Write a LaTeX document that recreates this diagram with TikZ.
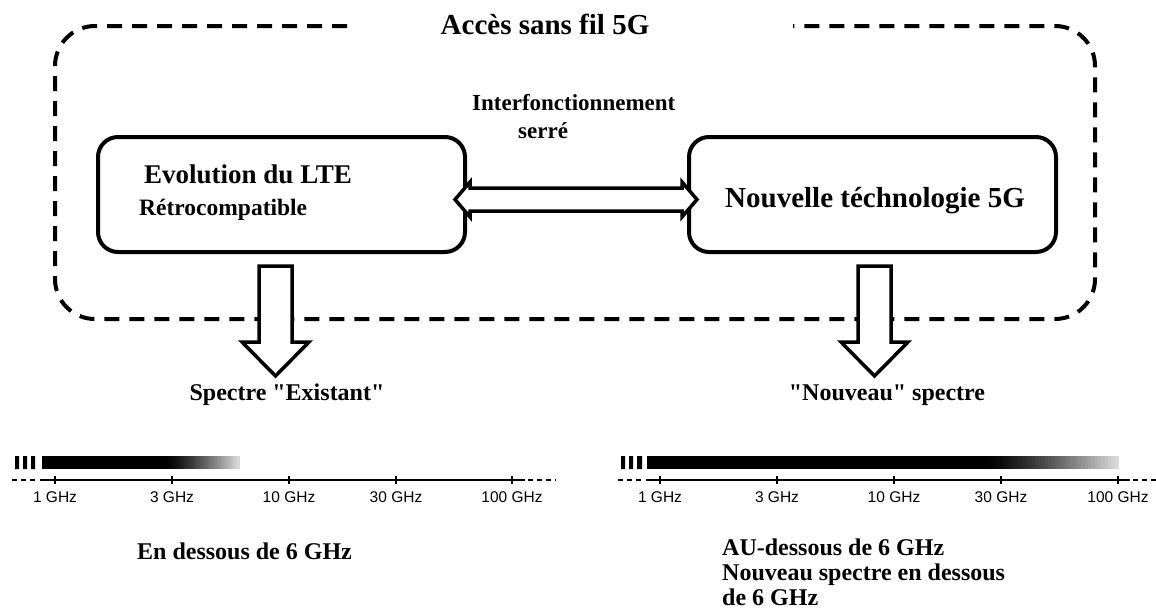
\documentclass[tikz,border=0pt]{standalone}
\usepackage{fontspec}
\setmainfont{Liberation Serif}[Ligatures=TeXOff]
\newfontfamily\axisfont{Liberation Sans}
\usetikzlibrary{calc}

\tikzset{
  accessbox/.style={line width=4pt, dash pattern=on 15pt off 10pt, rounded corners=40pt},
  blockbox/.style={draw, line width=4pt, rounded corners=20pt, inner sep=0pt,
                   minimum width=367pt, minimum height=115pt},
  hollow/.style={draw, fill=white, line width=3.5pt, line join=miter},
  txt/.style={inner sep=0pt, font=\bfseries\fontsize{#1}{#1}\selectfont},
  freq/.style={inner sep=0pt, anchor=base, font=\axisfont\fontsize{15.5}{16}\selectfont},
  axisline/.style={line width=2.5pt},
  axisdash/.style={line width=2.5pt, dash pattern=on 5pt off 4pt},
  ticklines/.style={line width=2pt},
  pics/downarrow/.style={code={
    \draw[hollow] (-16.5,0) -- (16.5,0) -- (16.5,76) -- (33.5,76) -- (0,110)
                  -- (-33.5,76) -- (-16.5,76) -- cycle;}},
  pics/twoway/.style={code={
    \draw[hollow] (-121,0) -- (-106,-17.5) -- (-106,-11.5) -- (106,-11.5) -- (106,-17.5)
                  -- (121,0) -- (106,17.5) -- (106,11.5) -- (-106,11.5) -- (-106,17.5) -- cycle;}}
}

% black band from #1 to #2 that fades out between #2 and #3 (band spans y 456..469)
\newcommand{\fadeband}[3]{%
  \fill (#1,456) rectangle (#2+0.5,469);
  \foreach \i [evaluate=\i as \p using {100-88*(\i/40)^1.3},
               evaluate=\i as \xa using {#2+(#3-#2)*\i/40},
               evaluate=\i as \xb using {#2+(#3-#2)*(\i+1.3)/40}] in {0,...,39}
    \fill[black!\p] (\xa,456) rectangle (\xb,469);
}

\begin{document}
\begin{tikzpicture}[x=1pt,y=-1pt]
\useasboundingbox (0,0) rectangle (1156,611);

% wireless access frame, open at the top for its title
\draw[accessbox] (347,26) -- (55,26) -- (55,319) -- (1095,319) -- (1095,26) -- (793,26);
\node[txt=29, anchor=base] (title) at (545,34) {Accès sans fil 5G};

% the two radio access blocks
\node[blockbox] (lte) at (281.5,194.5) {};
\node[blockbox] (nr) at (872.5,194.5) {};
\node[txt=27, anchor=base west] (lteA) at (144,183) {Evolution du LTE};
\node[txt=23.5, anchor=base west] (lteB) at (139,215) {Rétrocompatible};
\node[txt=29, anchor=base] (nrA) at (875,207) {Nouvelle téchnologie 5G};

% tight interworking between them
\node[txt=23, anchor=base west] (iwA) at (472,110) {Interfonctionnement};
\node[txt=23, anchor=base west] (iwB) at (518,138) {serré};
\path (lte.east) -- (nr.west) coordinate[midway] (iwmid);
\pic (iw) at ($(iwmid)+(-1,5)$) {twoway};

% spectrum used by each block
\pic (downL) at ($(lte.south)+(-6,12)$) {downarrow};
\pic (downR) at ($(nr.south)+(2,12)$) {downarrow};
\node[txt=24, anchor=base] (specL) at (287,400) {Spectre "Existant"};
\node[txt=24, anchor=base] (specR) at (887,400) {"Nouveau" spectre};

% frequency axis, existing spectrum
\fill (15,456) rectangle (19,469) (23,456) rectangle (27,469) (31,456) rectangle (35,469);
\fadeband{42}{165}{239}
\draw[axisdash] (12,480) -- (38,480);
\draw[axisline] (40,480) -- (525,480);
\draw[axisdash] (528,480) -- (556,480);
\foreach \x/\f in {55/1 GHz,172/3 GHz,289/10 GHz,396/30 GHz,512/100 GHz}{
  \draw[ticklines] (\x,476) -- (\x,484);
  \node[freq] at (\x,502) {\f};
}
\node[txt=24, anchor=base west] (bandL) at (137,559) {En dessous de 6 GHz};

% frequency axis, new spectrum
\fill (621,456) rectangle (625,469) (629,456) rectangle (633,469) (637,456) rectangle (642,469);
\fadeband{647}{985}{1118}
\draw[axisdash] (618,480) -- (644,480);
\draw[axisline] (646,480) -- (1130,480);
\draw[axisdash] (1133,480) -- (1156,480);
\foreach \x/\f in {660/1 GHz,777/3 GHz,894/10 GHz,1001/30 GHz,1118/100 GHz}{
  \draw[ticklines] (\x,476) -- (\x,484);
  \node[freq] at (\x,502) {\f};
}
\node[txt=24, anchor=base west] (bandR1) at (722,555) {AU-dessous de 6 GHz};
\node[txt=24, anchor=base west] (bandR2) at (722,580) {Nouveau spectre en dessous};
\node[txt=24, anchor=base west] (bandR3) at (722,605) {de 6 GHz};
\end{tikzpicture}
\end{document}
